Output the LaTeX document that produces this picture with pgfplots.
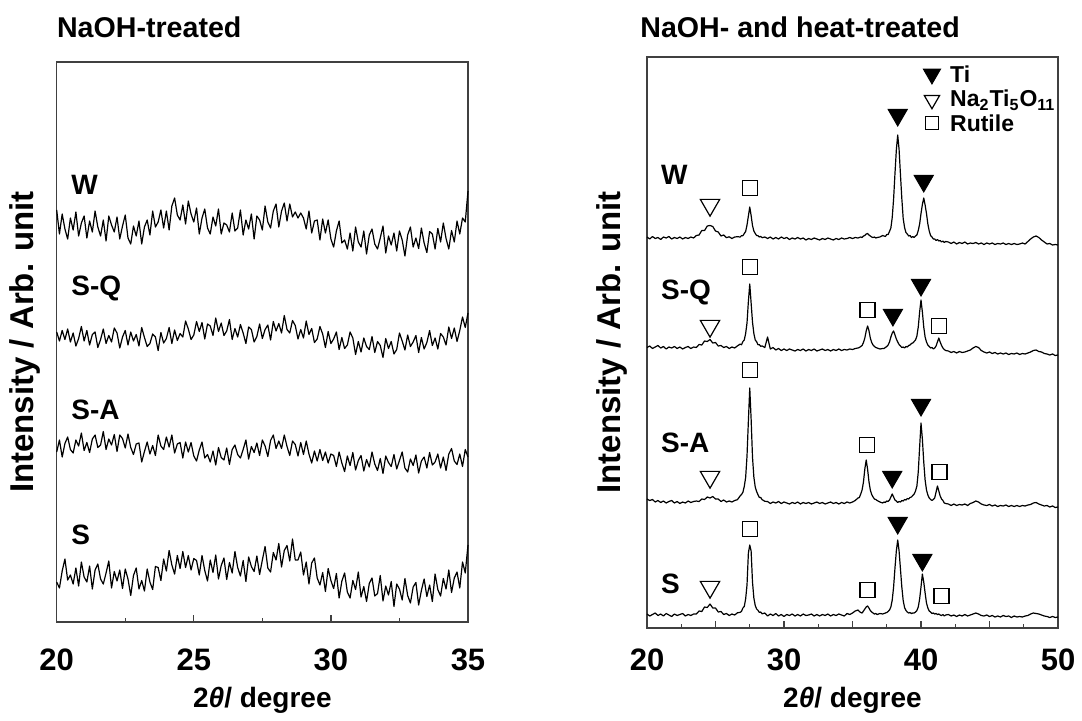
\documentclass[border=0pt]{standalone}
\usepackage{pgfplots}
\pgfplotsset{compat=1.18}
\usepackage{pgfplotstable}
\usepackage{fontspec}
\setmainfont{Liberation Sans}
\setsansfont{Liberation Sans}

\pgfdeclareplotmark{dtri}{%
  \pgfpathmoveto{\pgfqpoint{-\pgfplotmarksize}{0.58\pgfplotmarksize}}%
  \pgfpathlineto{\pgfqpoint{\pgfplotmarksize}{0.58\pgfplotmarksize}}%
  \pgfpathlineto{\pgfqpoint{0pt}{-1.15\pgfplotmarksize}}%
  \pgfpathclose
  \pgfusepathqfillstroke}

% NaOH-treated (absolute positions, arbitrary units)
\pgfplotstableread{
x W SQ SA S
20.0 412 290 170 40
20.1 388 281 182 34
20.2 408 291.5 165 51
20.3 393 282.5 178.5 63
20.4 383 293 185 42
20.5 404 280 172.5 47
20.6 392 289 169 38
20.7 410 276 182 54
20.8 386 283.5 176 36
20.9 399 295.5 189 60
21.0 406 281 171.5 45
21.1 384 291.5 179.5 40
21.2 401 277 169.5 56
21.3 390 287.5 183 33
21.4 411 290 187 52
21.5 395 274.5 174.5 58
21.6 386 282.5 177 43
21.7 402 293 190.5 38
21.8 381 278.5 172.5 49
21.9 406 286.5 183 61
22.0 397 280 177 34
22.1 390 294 187.5 50.5
22.2 405 289 170.5 41
22.3 383 274 187 52
22.4 396 285 183.5 33.5
22.5 407 291.5 174 53
22.6 384 277 188 43
22.7 378 290 174.5 26.5
22.8 396 281 167.5 46.5
22.9 386 287.5 178 54
23.0 401 276 179 33
23.1 378 294.5 160 41.5
23.2 395 284.5 170.5 31
23.3 402 275.5 180 53
23.4 387 278.5 168 40
23.5 411 288 176.5 32.5
23.6 395 285 166.5 55.5
23.7 400 271.5 187 54.5
23.8 412 289.5 176 41.5
23.9 394 279 172.5 63
24.0 411 283.5 185 51
24.1 392 294.5 175 71.5
24.2 416 278.5 187 57
24.3 424 292 169 48
24.4 407 281.5 178 66.5
24.5 402 288.5 179.5 53.5
24.6 417 285 164 70.5
24.7 398 301 180 54.5
24.8 421 293 170 66.5
24.9 408 282.5 179.5 52
25.0 400 287 166 63.5
25.1 414 300.5 161 61.5
25.2 388 290.5 172 47
25.3 404 299.5 180 66.5
25.4 413 283 164 51.5
25.5 394 298 167.5 41
25.6 388 296 160 62
25.7 405 286.5 171 49.5
25.8 396 304 157 67
25.9 413 290.5 174.5 43
26.0 388 299 164.5 56.5
26.1 399 286.5 162 64
26.2 397 291 174 42.5
26.3 390 302.5 157.5 59.5
26.4 409 282.5 172.5 49
26.5 391 293.5 177 70.5
26.6 394 285 167.5 54.5
26.7 412 297.5 164 46
26.8 387 289 172.5 61.5
26.9 402 278.5 182 40.5
27.0 393 295 163 65
27.1 408 292.5 175.5 55.5
27.2 383 280 169.5 50.5
27.3 406 285.5 179 66
27.4 402 298 166.5 47.5
27.5 392 283.5 182 62
27.6 416 292.5 176 75.5
27.7 400 297 165.5 54
27.8 394 282 181.5 50
27.9 411 300.5 187 69.5
28.0 418 291 173.5 62
28.1 395 298.5 181 78.5
28.2 411 289 173.5 55
28.3 419 306.5 187 71.5
28.4 401 292.5 175.5 76.5
28.5 418 289 166.5 61
28.6 405 301.5 181 83
28.7 410 296.5 177.5 62
28.8 404 283 166 62
28.9 409 292.5 179.5 70
29.0 404 284 167.5 47
29.1 393 301 181 60
29.2 411 287.5 168 38
29.3 389 293.5 159 59
29.4 401 279.5 171 64
29.5 402 283 161 44
29.6 382 295.5 172.5 37
29.7 403 288 161.5 49.5
29.8 389 274.5 170 30.5
29.9 402 290.5 159 53.5
30.0 383 278.5 168 41.5
30.1 375 283 166.5 33.5
30.2 391 290 155.5 48.5
30.3 401 272.5 170 24
30.4 379 284.5 159 41
30.5 382 273.5 150.5 49
30.6 373 277 166 30
30.7 389 290 156.5 24
30.8 371 284 169.5 41.5
30.9 395 267.5 152 32.5
31.0 380 280.5 161.5 50
31.1 375 270 166.5 25
31.2 391 284 151 35.5
31.3 368 275.5 162.5 20.5
31.4 387 272.5 155 38.5
31.5 393 285.5 170 44
31.6 378 269.5 158 26
31.7 373 280.5 151.5 28.5
31.8 384 276.5 163.5 46.5
31.9 396 264.5 148.5 21
32.0 369 283.5 166 36
32.1 386 273.5 159.5 27
32.2 377 280.5 155.5 40.5
32.3 389 268 167.5 15.5
32.4 371 272.5 153 38
32.5 391 289 161.5 33
32.6 382 281 170 22
32.7 366 272 154 43.5
32.8 387 287 150 26.5
32.9 395 275.5 163 19
33.0 375 280 156.5 35
33.1 384 286.5 167 39.5
33.2 373.5 269.5 149 17
33.3 394 284.5 161 31.5
33.4 379 273 165 43
33.5 369.5 279.5 154 25.5
33.6 390.5 291.5 169.5 37
33.7 388 276.5 157 20.5
33.8 373 284 160 48
33.9 393.5 273 168 32.5
34.0 380 288.5 154 26
34.1 399 285 165 43.5
34.2 383.5 277 151.5 33
34.3 373 295 168 52
34.4 391.5 283.5 173.5 29.5
34.5 380 294 161 44
34.6 401 280.5 157.5 50
34.7 388 291.5 168 34
34.8 404 305 155.5 60
34.9 400 294.5 172.5 49
35.0 431 309 165 77
}\lefttab

% NaOH- and heat-treated (relative to each trace's baseline)
\pgfplotstableread{
x W SQ SA S
20.0 1 0.5 3 1
20.2 -1 2 1.5 -1
20.4 1.5 -0.5 2.5 0.5
20.6 -0.5 1 0 2
20.8 0.5 2.5 1.5 -0.5
21.0 -1.5 0 -0.5 1
21.2 1 1.5 1 -1
21.4 0 -1 -1 1.5
21.6 1.5 1 0.5 0
21.8 -1 0 1.5 -1.5
22.0 0.5 1.5 -1 1
22.2 -0.5 -0.5 0.5 -0.5
22.4 1 1 -1.5 0.5
22.6 -1 -1 0 1.5
22.8 0.5 0.5 -1 -1
23.0 -0.5 1.5 1 0.5
23.2 1 -0.5 -0.5 -0.5
23.4 0 1 0.5 1
23.6 2.5 0.5 1 1
23.8 3 3.5 0.5 4
24.0 7.5 3 3 3.5
24.2 7.5 7 2.5 8
24.4 12 6.5 5 7.5
24.6 12.5 8.5 4 11
24.8 11.5 5 5.5 7
25.0 7 5.5 3 7
25.2 6 2 3 3
25.4 2 2.5 0.5 3.5
25.6 3 0.5 2 0.5
25.8 0.3 1.5 0 1.5
26.0 1.2 -0.5 1 -0.5
26.2 -0.5 1 0 1
26.4 1 0 1.5 0
26.6 1.3 2.1 2.3 2.2
26.8 1 3.9 6.1 2.7
26.9 2.4 3.3 7.5 3.7
27.0 2.3 6.5 9.8 7
27.1 4.5 8 15.5 8.6
27.2 6.5 14.5 24.5 16
27.3 13 25 46 30
27.4 22 46.5 81 62
27.5 31 64 114 70
27.6 22.5 45 83 64
27.7 12.5 26 45 33
27.8 7 14.5 25 17
27.9 4.5 8 15 9.5
28.0 2.5 6.3 10.5 6
28.1 2.3 3.3 7.3 4.7
28.2 1 3.4 4.6 2.6
28.3 1.6 1.7 4.5 3
28.4 0.3 2.1 2.4 1.2
28.6 1 0.5 0.7 2
28.8 -0.5 11 0.5 -1
29.0 1 -1 -1.5 1
29.2 -1 0.5 0 -0.5
29.4 0.5 -2 -1 1.5
29.6 -1 -0.5 0.5 -1
29.8 1 -2.5 -1.5 0.5
30.0 -0.5 -1 0 -1.5
30.2 0.5 -2.5 -1 0.5
30.4 -1.5 -1 -2 -0.5
30.6 0 -2 -0.5 1
30.8 -1 -3 -1.5 -1
31.0 0.5 -1.5 0 0.5
31.2 -1 -2.5 -2 -1
31.4 0 -1 -0.5 1
31.6 -2 -3 -1.5 -0.5
31.8 -0.5 -1.5 -0.5 0
32.0 -1.5 -2.5 -2 1
32.2 0 -1 -1 -1
32.4 -1 -3 0 0.5
32.6 -2 -2 -1.5 -1
32.8 -0.5 -1 -0.5 0.5
33.0 -1.5 -2.5 -2 -0.5
33.2 0 -1.5 -1 1
33.4 -1 -3 0 -1
33.6 -2 -1.5 -1.5 0.5
33.8 -0.5 -2.5 -0.5 -0.5
34.0 -1.5 -1 -2 1
34.2 0 -2.5 -0.5 0
34.4 -1 -1.5 -1.5 -1
34.6 -0.5 -2 0 1.5
34.8 0.5 -1 -1 0.5
35.0 -0.5 -1.5 0 2
35.2 0.5 -0.5 1.5 4
35.4 0 0 4 5
35.5 0.5 0.5 4.5 3.5
35.6 1 1.5 8 2.5
35.7 0.5 2.5 12 2
35.8 2 5.5 20 4
35.9 2.5 10 33 6
36.0 4 17 42 8
36.1 4.5 22 33 9
36.2 3 17.5 20.5 7
36.3 2 10 12 4.5
36.4 1 5.5 7.5 3
36.5 0.5 3 5 2
36.6 1 1.5 3 1
36.7 0 0.5 2.5 1.5
36.8 0.5 0 1.5 0.5
37.0 1 -1 0 1.5
37.2 2.5 -0.5 -1 1
37.3 2 -0.5 0 1.5
37.4 1.5 0.5 -0.5 2
37.5 3.5 1.5 1 2.5
37.6 3.5 3 0.5 3.5
37.7 6.5 6 2 5
37.8 10 11 5 8
37.9 20.5 15 8 15
38.0 39 17 5 28
38.1 64.5 13 2 47
38.2 88 9 1 64
38.3 103 6 -0.5 75
38.4 88.5 3.5 0.5 64
38.5 63.5 2 0 46
38.6 39.5 0.5 1.5 28
38.7 19.5 1 1 14.5
38.8 10.5 0 2.5 7.5
38.9 5.5 1.5 2 4.5
39.0 4 1 3.5 3
39.1 2 2.5 3 2
39.2 2.5 3 4.5 2.5
39.3 0.5 4.5 5 1.5
39.4 1.5 5 6.5 2
39.5 0.5 6.5 8 2
39.6 2 8 11 3
39.7 3 12 16 4.5
39.8 7.5 21 30 8
39.9 14 36 55 16
40.0 24.5 48 79 28
40.1 33.5 36 63 41
40.2 40 21 40 33
40.3 33 11 22 22
40.4 24.5 6 12 12
40.5 14 3 7 7
40.6 7 1.5 4 4
40.7 2.5 0 2.5 3
40.8 1 0.5 1.5 1.5
40.9 -1 -1 2.5 2
41.0 -1 0 4 1
41.1 -2.5 2 10 1.5
41.2 -1.5 6 16 0.5
41.3 -3 10 11 1
41.4 -2.5 6 6 0
41.5 -4 2.5 3 -0.5
41.6 -3 0 1.5 0.5
41.7 -4.5 -1.5 -1 -1
41.8 -3.5 -2.5 -1.5 0
42.0 -4 -3 -2 0.5
42.2 -5.5 -4.5 -3.5 -1
42.4 -4 -3.5 -2 0
42.6 -6 -5 -3.5 -1.5
42.8 -4.5 -3.5 -2.5 0
43.0 -5.5 -4.5 -3 -1
43.2 -4 -4 -2 0.5
43.4 -6 -3 -3.5 -1
43.6 -5 -2 -1.5 0
43.8 -5.5 0 -0.5 1
44.0 -4.5 1.5 1 2
44.2 -6 0.5 0 1
44.4 -5 -2.5 -2 -0.5
44.6 -6.5 -4 -3 -1
44.8 -5 -5 -3.5 0
45.0 -6 -4 -2.5 -1.5
45.2 -5 -5.5 -4 -0.5
45.4 -6.5 -4.5 -3 -2
45.6 -5.5 -6 -4.5 -1
45.8 -6 -5 -3.5 -2
46.0 -5 -6 -4 -0.5
46.2 -6.5 -5 -3 -1.5
46.4 -5.5 -6.5 -4.5 -1
46.6 -6.5 -5.5 -3.5 -2.5
46.8 -5.5 -6 -4.5 -1
47.0 -6.5 -5 -3.5 -2
47.2 -6 -6.5 -4.5 -1.5
47.4 -5 -5.5 -3.5 -2
47.6 -6 -6 -4 -1
47.8 -3.5 -5 -3 -0.5
48.0 -1 -4 -2.5 1
48.2 1 -2.5 -1 2
48.4 2 -2 -0.5 1.5
48.6 0.5 -3.5 -2 1
48.8 -2 -4 -3 0
49.0 -4 -5.5 -4 -1
49.2 -6 -6 -3.5 -1.5
49.4 -5.5 -7 -5 -2.5
49.6 -7 -6 -4 -1.5
49.8 -6.5 -7.5 -5.5 -2.5
50.0 -7 -7 -5 -2
}\righttab

\pgfplotsset{
  xrdaxis/.style={
    scale only axis, anchor=south west, clip=false,
    axis line style={black!75, line width=0.6pt},
    ytick=\empty, tick align=inside, xtick pos=bottom,
    major tick length=3.6pt, minor tick length=1.8pt,
    every tick/.style={black!75, line width=0.6pt},
    every minor tick/.style={black!75, line width=0.6pt},
    xticklabel style={font=\bfseries\fontsize{15.5}{16}\selectfont, anchor=center},
  },
  trace/.style={black, line width=0.6pt, line join=round, mark=none},
}

\begin{document}
\begin{tikzpicture}
\path[use as bounding box] (0pt,0pt) rectangle (541pt,360pt);

% ---------------- left panel ----------------
\begin{axis}[xrdaxis,
  at={(28.35pt,49pt)}, width=205.65pt, height=280pt,
  xmin=20, xmax=35, ymin=0, ymax=560,
  xtick={20,25,30,35}, xticklabels={20,25,30,35},
  minor xtick={22.5,27.5,32.5},
  xticklabel style={yshift=-19pt},
]
\addplot[trace] table[x=x, y=W] {\lefttab};
\addplot[trace] table[x=x, y=SQ] {\lefttab};
\addplot[trace] table[x=x, y=SA] {\lefttab};
\addplot[trace] table[x=x, y=S] {\lefttab};
\node[anchor=west, inner sep=0pt, font=\bfseries\fontsize{14}{14}\selectfont] at (axis cs:20.52,437) {W};
\node[anchor=west, inner sep=0pt, font=\bfseries\fontsize{14}{14}\selectfont] at (axis cs:20.52,334) {S-Q};
\node[anchor=west, inner sep=0pt, font=\bfseries\fontsize{14}{14}\selectfont] at (axis cs:20.52,212) {S-A};
\node[anchor=west, inner sep=0pt, font=\bfseries\fontsize{14}{14}\selectfont] at (axis cs:20.52,87) {S};
\node[anchor=west, inner sep=0pt, font=\bfseries\fontsize{14.3}{15}\selectfont] at (axis description cs:0,1) [yshift=17.5pt] {NaOH-treated};
\node[rotate=90, inner sep=0pt, font=\bfseries\fontsize{16.5}{17}\selectfont] at (axis description cs:-0.077,0.5) {Intensity / Arb. unit};
\node[inner sep=0pt, font=\bfseries\fontsize{14}{15}\selectfont] at (axis description cs:0.5,0) [yshift=-39pt] {2\textit{θ}/ degree};
\end{axis}

% ---------------- right panel ----------------
\begin{axis}[xrdaxis,
  at={(323.5pt,46pt)}, width=205.5pt, height=285.5pt,
  xmin=20, xmax=50, ymin=0, ymax=571,
  xtick={20,25,30,35,40,45,50}, xticklabels={20,,30,,40,,50},
  minor xtick={22.5,27.5,32.5,37.5,42.5,47.5},
  xticklabel style={yshift=-16pt},
]
\addplot[trace] table[x=x, y expr=\thisrow{W}+390] {\righttab};
\addplot[trace] table[x=x, y expr=\thisrow{SQ}+280] {\righttab};
\addplot[trace] table[x=x, y expr=\thisrow{SA}+126] {\righttab};
\addplot[trace] table[x=x, y expr=\thisrow{S}+13] {\righttab};

% Ti (filled down-triangles)
\addplot[only marks, mark=dtri, mark size=4.75pt, mark options={draw=black, fill=black, line width=0.5pt}]
  coordinates {(38.3,513) (40.2,447) (37.95,313) (40.0,343) (37.9,151) (40.0,223) (38.3,105) (40.1,68)};
% Na2Ti5O11 (open down-triangles)
\addplot[only marks, mark=dtri, mark size=4.85pt, mark options={draw=black, fill=white, line width=0.6pt}]
  coordinates {(24.6,423) (24.6,302) (24.6,151) (24.6,41)};
% Rutile (open squares)
\addplot[only marks, mark=square*, mark size=3.75pt, mark options={draw=black, fill=white, line width=0.6pt}]
  coordinates {(27.5,440) (27.5,361) (36.1,318) (41.3,302) (27.5,258) (36.05,183) (41.35,156) (27.5,99) (36.1,38) (41.5,32)};
% legend marks
\addplot[only marks, mark=dtri, mark size=4.3pt, mark options={draw=black, fill=black, line width=0.5pt}]
  coordinates {(40.8,554)};
\addplot[only marks, mark=dtri, mark size=3.8pt, mark options={draw=black, fill=white, line width=0.6pt}]
  coordinates {(40.8,528)};
\addplot[only marks, mark=square*, mark size=3.2pt, mark options={draw=black, fill=white, line width=0.6pt}]
  coordinates {(40.8,505)};
\node[anchor=west, inner sep=0pt, font=\bfseries\fontsize{11.5}{12}\selectfont] at (axis cs:42.1,554) {Ti};
\node[anchor=west, inner sep=0pt, font=\bfseries\fontsize{11.5}{12}\selectfont] at (axis cs:42.1,528) {Na\textsubscript{2}Ti\textsubscript{5}O\textsubscript{11}};
\node[anchor=west, inner sep=0pt, font=\bfseries\fontsize{11.5}{12}\selectfont] at (axis cs:42.1,505) {Rutile};

\node[anchor=west, inner sep=0pt, font=\bfseries\fontsize{14}{14}\selectfont] at (axis cs:21.0,453) {W};
\node[anchor=west, inner sep=0pt, font=\bfseries\fontsize{14}{14}\selectfont] at (axis cs:21.0,336) {S-Q};
\node[anchor=west, inner sep=0pt, font=\bfseries\fontsize{14}{14}\selectfont] at (axis cs:21.0,185) {S-A};
\node[anchor=west, inner sep=0pt, font=\bfseries\fontsize{14}{14}\selectfont] at (axis cs:21.0,44) {S};
\node[anchor=west, inner sep=0pt, font=\bfseries\fontsize{14.3}{15}\selectfont] at (axis description cs:0,1) [xshift=-3.5pt, yshift=15pt] {NaOH- and heat-treated};
\node[rotate=90, inner sep=0pt, font=\bfseries\fontsize{16.5}{17}\selectfont] at (axis description cs:-0.085,0.5) {Intensity / Arb. unit};
\node[inner sep=0pt, font=\bfseries\fontsize{14}{15}\selectfont] at (axis description cs:0.5,0) [yshift=-36pt] {2\textit{θ}/ degree};
\end{axis}
\end{tikzpicture}
\end{document}
